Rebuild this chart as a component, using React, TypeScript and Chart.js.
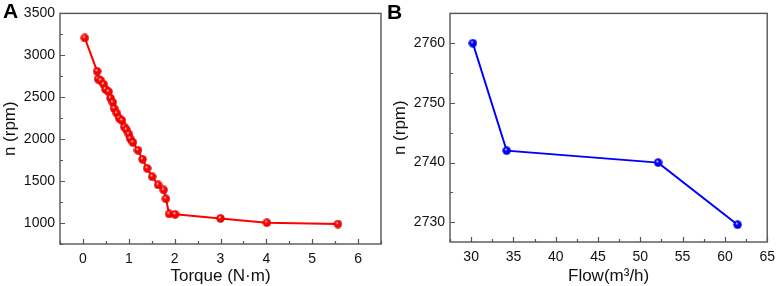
import React, { useEffect, useRef } from "react";
import { Chart, registerables } from "chart.js";

Chart.register(...registerables);

// Panel A: speed vs torque
const torqueA = [0.04, 0.31, 0.33, 0.39, 0.45, 0.49, 0.56, 0.6, 0.65, 0.68, 0.74, 0.79, 0.85, 0.9, 0.95, 1.0, 1.03, 1.09, 1.2, 1.3, 1.4, 1.51, 1.64, 1.76, 1.81, 1.88, 2.01, 3.0, 4.01, 5.56];
const speedA = [3207, 2809, 2717, 2698, 2655, 2594, 2566, 2490, 2439, 2366, 2308, 2250, 2223, 2146, 2111, 2061, 2007, 1961, 1868, 1760, 1652, 1552, 1455, 1394, 1289, 1108, 1104, 1055, 1004, 988];
const xTicksA = [0, 1, 2, 3, 4, 5, 6];
const yTicksA = [1000, 1500, 2000, 2500, 3000, 3500];

// Panel B: speed vs flow
const flowB = [30.2, 34.2, 52.1, 61.5];
const speedB = [2760, 2742, 2740, 2729.6];
const xTicksB = [30, 35, 40, 45, 50, 55, 60, 65];
const yTicksB = [2730, 2740, 2750, 2760];

const FONT = "'Liberation Sans', Arial, sans-serif";

function makeBall(color: string, dark: string, size: number) {
  const c = document.createElement("canvas");
  c.width = size;
  c.height = size;
  const g = c.getContext("2d")!;
  const r = size / 2;
  const grad = g.createRadialGradient(r - 1, r - 1.4, 0.2, r, r, r);
  grad.addColorStop(0, "#ffffff");
  grad.addColorStop(0.3, color);
  grad.addColorStop(0.75, color);
  grad.addColorStop(1, dark);
  g.fillStyle = grad;
  g.beginPath();
  g.arc(r, r, r - 0.3, 0, Math.PI * 2);
  g.fill();
  return c;
}

const framePlugin = {
  id: "frame",
  beforeDatasetsDraw(chart: any) {
    const { ctx, chartArea } = chart;
    const { left, right, top, bottom } = chartArea;
    const xs = chart.scales.x;
    const ys = chart.scales.y;
    ctx.save();
    ctx.strokeStyle = "#555";
    ctx.lineWidth = 1.4;
    ctx.strokeRect(left, top, right - left, bottom - top);
    ctx.lineWidth = 1.2;
    const xt = xs.ticks.map((t: any) => t.value);
    const yt = ys.ticks.map((t: any) => t.value);
    const minors = (arr: number[], min: number, max: number) => {
      const out: number[] = [];
      if (arr.length < 2) return out;
      const step = arr[1] - arr[0];
      for (let i = 0; i < arr.length - 1; i++) out.push((arr[i] + arr[i + 1]) / 2);
      const first = arr[0] - step / 2;
      const last = arr[arr.length - 1] + step / 2;
      if (first >= min) out.push(first);
      if (last <= max) out.push(last);
      return out;
    };
    ctx.beginPath();
    for (const v of xt) {
      const p = Math.round(xs.getPixelForValue(v)) + 0.5;
      ctx.moveTo(p, bottom);
      ctx.lineTo(p, bottom - 5);
    }
    for (const v of minors(xt, xs.min, xs.max)) {
      const p = Math.round(xs.getPixelForValue(v)) + 0.5;
      ctx.moveTo(p, bottom);
      ctx.lineTo(p, bottom - 3);
    }
    for (const v of yt) {
      const p = Math.round(ys.getPixelForValue(v)) + 0.5;
      ctx.moveTo(left, p);
      ctx.lineTo(left + 5, p);
    }
    for (const v of minors(yt, ys.min, ys.max)) {
      const p = Math.round(ys.getPixelForValue(v)) + 0.5;
      ctx.moveTo(left, p);
      ctx.lineTo(left + 3, p);
    }
    ctx.stroke();
    ctx.restore();
  },
};

type PanelProps = {
  xs: number[];
  ys: number[];
  xTicks: number[];
  yTicks: number[];
  xMin: number;
  xMax: number;
  yMin: number;
  yMax: number;
  xTitle: string;
  color: string;
  dark: string;
  width: number;
  height: number;
  padTop: number;
  padRight: number;
  xAxisHeight: number;
};

function Panel(p: PanelProps) {
  const ref = useRef<HTMLCanvasElement | null>(null);
  useEffect(() => {
    if (!ref.current) return;
    const ball = makeBall(p.color, p.dark, 9);
    const chart = new Chart(ref.current, {
      type: "scatter",
      data: {
        datasets: [
          {
            data: p.xs.map((x, i) => ({ x, y: p.ys[i] })),
            showLine: true,
            borderColor: p.color,
            borderWidth: 2,
            pointStyle: ball as any,
            pointRadius: 4.5,
            tension: 0,
          },
        ],
      },
      options: {
        responsive: false,
        animation: false,
        devicePixelRatio: 1,
        layout: { padding: { left: 0, top: p.padTop, right: p.padRight, bottom: 0 } },
        plugins: { legend: { display: false }, tooltip: { enabled: false } },
        scales: {
          x: {
            type: "linear",
            min: p.xMin,
            max: p.xMax,
            grid: { display: false, drawTicks: false },
            border: { display: false },
            afterBuildTicks: (s: any) => {
              s.ticks = p.xTicks.map((v) => ({ value: v }));
            },
            afterFit: (s: any) => {
              s.height = p.xAxisHeight;
            },
            ticks: {
              padding: 7,
              color: "#111",
              font: { family: FONT, size: 14 },
              maxRotation: 0,
              autoSkip: false,
              callback: (v: any) => String(v),
            },
            title: {
              display: true,
              text: p.xTitle,
              color: "#111",
              font: { family: FONT, size: 17 },
              padding: { top: 0, bottom: -1 },
            },
          },
          y: {
            type: "linear",
            min: p.yMin,
            max: p.yMax,
            grid: { display: false, drawTicks: false },
            border: { display: false },
            afterBuildTicks: (s: any) => {
              s.ticks = p.yTicks.map((v) => ({ value: v }));
            },
            afterFit: (s: any) => {
              s.width = 60;
            },
            ticks: {
              padding: 5,
              color: "#111",
              font: { family: FONT, size: 14 },
              autoSkip: false,
              callback: (v: any) => String(v),
            },
            title: {
              display: true,
              text: "n (rpm)",
              color: "#111",
              font: { family: FONT, size: 17 },
              padding: 0,
            },
          },
        },
      },
      plugins: [framePlugin],
    });
    return () => chart.destroy();
  }, []);
  return <canvas ref={ref} width={p.width} height={p.height} style={{ display: "block" }} />;
}

const letterStyle: React.CSSProperties = {
  position: "absolute",
  fontFamily: FONT,
  fontWeight: "bold",
  fontSize: 21,
  lineHeight: "20px",
  color: "#000",
};

export default function App() {
  return (
    <div style={{ position: "absolute", left: 0, top: 0, width: 782, height: 286, background: "#fff" }}>
      <div style={{ position: "absolute", left: 0, top: 0 }}>
        <Panel
          xs={torqueA}
          ys={speedA}
          xTicks={xTicksA}
          yTicks={yTicksA}
          xMin={-0.5}
          xMax={6.5}
          yMin={750}
          yMax={3500}
          xTitle="Torque (N·m)"
          color="#ff0000"
          dark="#a00000"
          width={390}
          height={286}
          padTop={6}
          padRight={9}
          xAxisHeight={42}
        />
      </div>
      <div style={{ position: "absolute", left: 390, top: 0 }}>
        <Panel
          xs={flowB}
          ys={speedB}
          xTicks={xTicksB}
          yTicks={yTicksB}
          xMin={27.5}
          xMax={65}
          yMin={2726.7}
          yMax={2765}
          xTitle="Flow(m³/h)"
          color="#0000ff"
          dark="#0000a0"
          width={392}
          height={286}
          padTop={2}
          padRight={9}
          xAxisHeight={44}
        />
      </div>
      <div style={{ ...letterStyle, left: 3, top: 1 }}>A</div>
      <div style={{ ...letterStyle, left: 387, top: 2 }}>B</div>
    </div>
  );
}
